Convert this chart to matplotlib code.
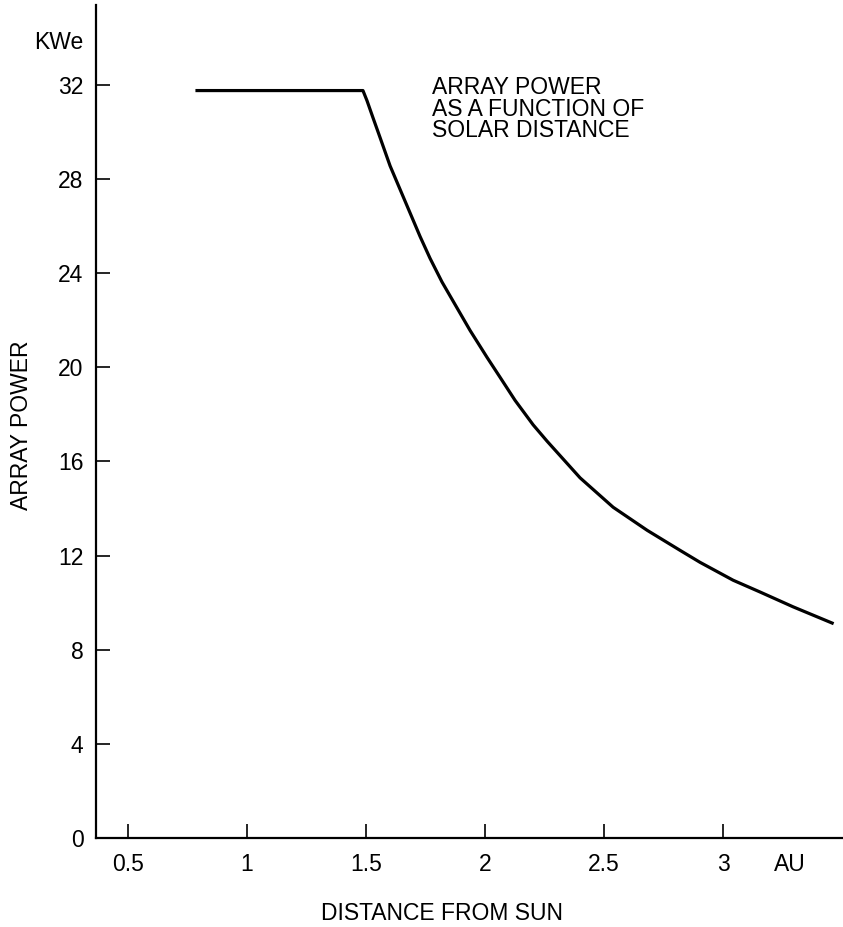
import matplotlib
matplotlib.use("Agg")
import matplotlib.pyplot as plt

plt.rcParams["font.family"] = ["Liberation Sans", "DejaVu Sans"]

# values (AU, KWe)
distance_au = [0.79, 1.487, 1.504, 1.529, 1.559, 1.601, 1.643, 1.685, 1.727, 1.769,
               1.819, 1.882, 1.937, 2.008, 2.063, 2.126, 2.202, 2.261, 2.399, 2.538,
               2.681, 2.819, 2.903, 3.042, 3.155, 3.294, 3.458]
power_kwe = [31.75, 31.75, 31.32, 30.60, 29.75, 28.55, 27.55, 26.55, 25.55, 24.62,
             23.62, 22.52, 21.56, 20.42, 19.57, 18.59, 17.55, 16.85, 15.30, 14.05,
             13.07, 12.22, 11.71, 10.95, 10.45, 9.82, 9.13]

x_ticks = [0.5, 1, 1.5, 2, 2.5, 3]
x_labels = ["0.5", "1", "1.5", "2", "2.5", "3"]
y_ticks = [0, 4, 8, 12, 16, 20, 24, 28, 32]

fs = 16.5

fig = plt.figure(figsize=(8.43, 9.27), dpi=100)
ax = fig.add_axes([0.114, 0.096, 0.885, 0.899])

ax.plot(distance_au, power_kwe, color="black", linewidth=2.3, solid_joinstyle="round")

ax.set_xlim(0.366, 3.5)
ax.set_ylim(0, 35.4)

ax.spines["top"].set_visible(False)
ax.spines["right"].set_visible(False)
ax.spines["left"].set_linewidth(1.6)
ax.spines["bottom"].set_linewidth(1.6)

ax.set_xticks(x_ticks)
ax.set_xticklabels(x_labels)
ax.set_yticks(y_ticks)
ax.tick_params(axis="both", direction="in", length=10, width=1.2, labelsize=fs)
ax.tick_params(axis="x", pad=11)
ax.tick_params(axis="y", pad=9)

# unit labels
ax.annotate("AU", xy=(3.28, 0), xycoords=("data", "axes fraction"),
            xytext=(0, -11), textcoords="offset points",
            ha="center", va="top", fontsize=fs)
ax.annotate("KWe", xy=(0, 33.8), xycoords=("axes fraction", "data"),
            xytext=(-9, 0), textcoords="offset points",
            ha="right", va="center", fontsize=fs)

ax.text(1.777, 32.35, "ARRAY POWER\nAS A FUNCTION OF\nSOLAR DISTANCE",
        ha="left", va="top", fontsize=fs, linespacing=0.9)

fig.text(0.026, 0.5415, "ARRAY POWER", rotation=90, ha="center", va="center", fontsize=fs)
fig.text(0.524, 0.015, "DISTANCE FROM SUN", ha="center", va="center", fontsize=fs)

fig.savefig("out.png", dpi=100)
